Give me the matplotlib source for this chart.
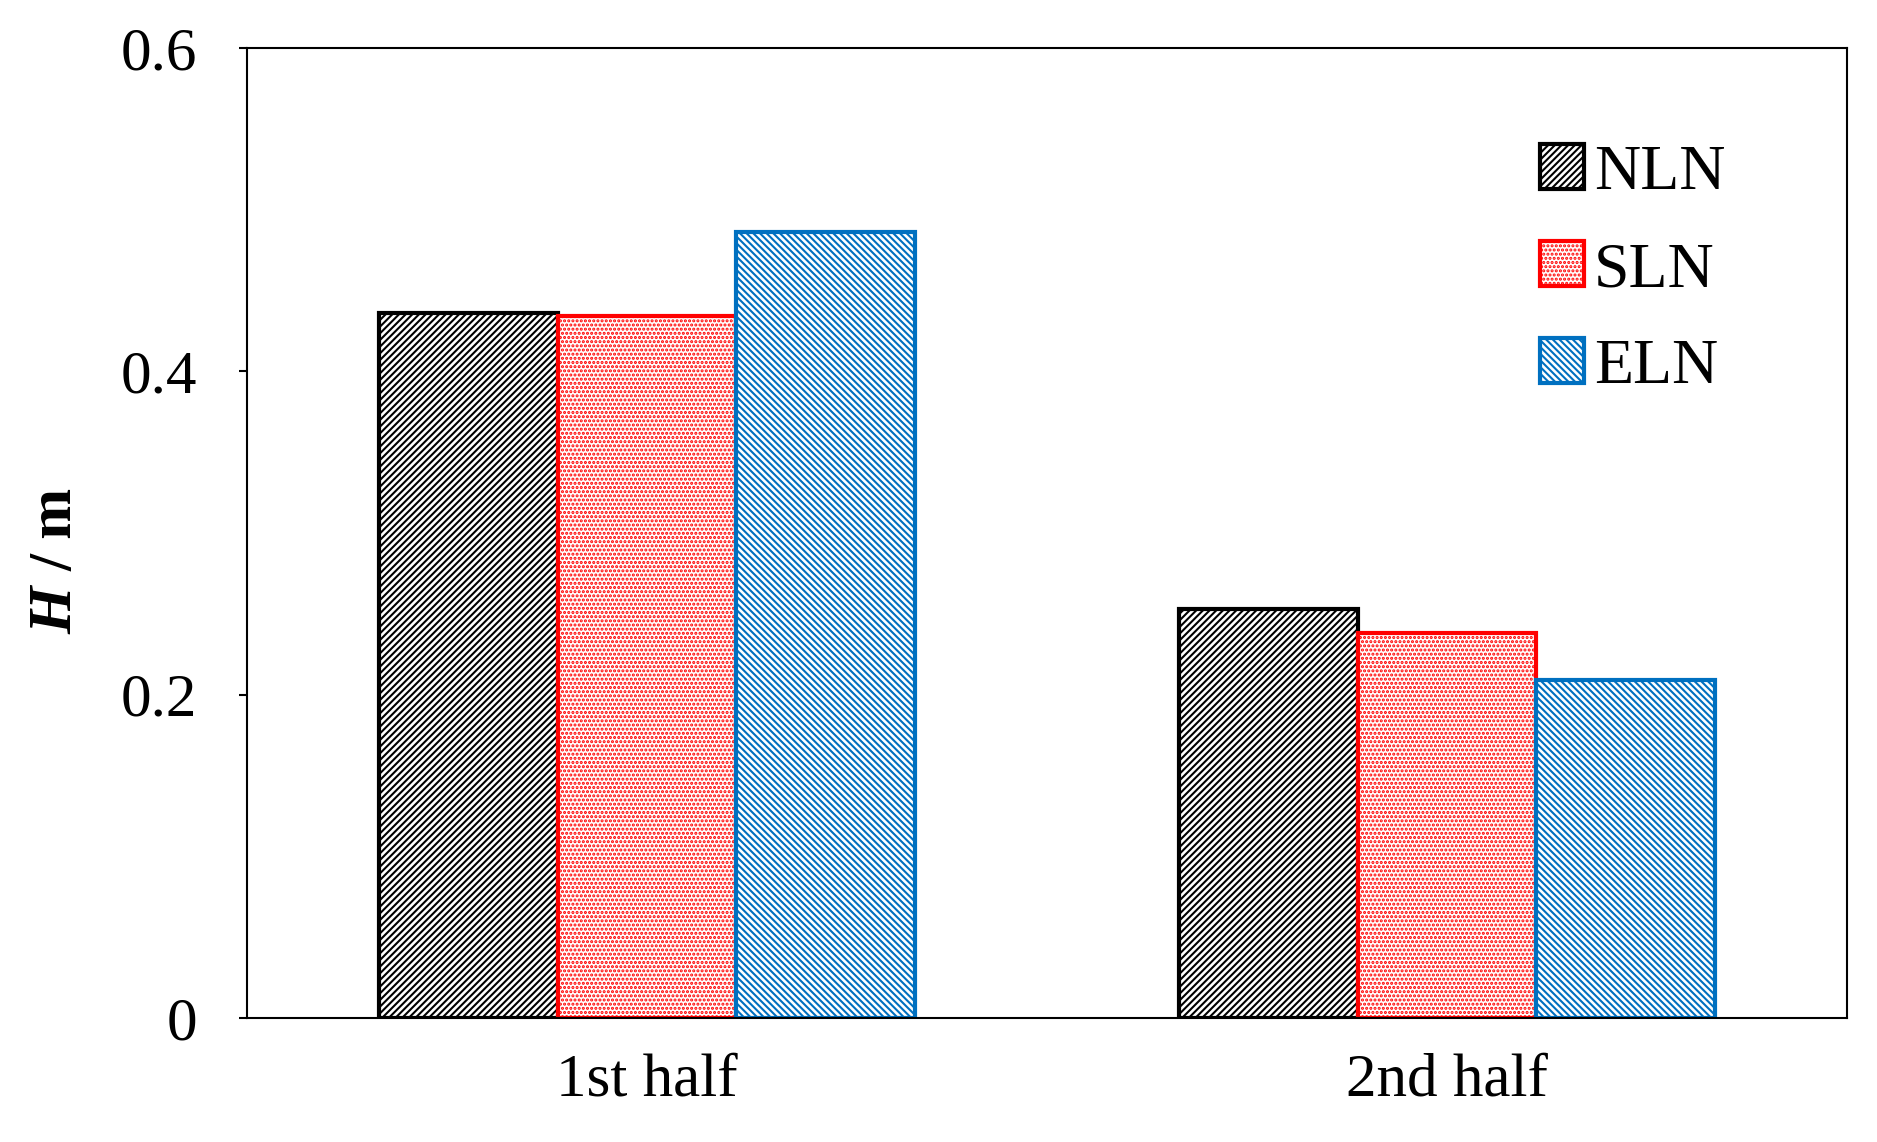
import numpy as np
import matplotlib.pyplot as plt

plt.rcParams['font.family'] = ['Liberation Serif', 'DejaVu Serif']
plt.rcParams['hatch.linewidth'] = 1.5

categories = ['1st half', '2nd half']
series = ['NLN', 'SLN', 'ELN']
nln = [0.436, 0.253]
sln = [0.434, 0.238]
eln = [0.486, 0.209]
yticks = [0, 0.2, 0.4, 0.6]
yticklabels = ['0', '0.2', '0.4', '0.6']

edges = ['black', '#ff0000', '#0070c0']
hatches = ['/////', '....', '\\\\\\\\\\']

fig = plt.figure(figsize=(18.77, 11.42), dpi=100)
ax = fig.add_axes([247 / 1877, 1 - 1018 / 1142, 1600 / 1877, 970 / 1142])

x = np.arange(len(categories))
width = 0.223
for i, (name, vals) in enumerate(zip(series, [nln, sln, eln])):
    plt.rcParams['hatch.color'] = edges[i]
    ax.bar(x + (i - 1) * width, vals, width, facecolor='white', edgecolor=edges[i],
           hatch=hatches[i], linewidth=3, label=name)

ax.set_xlim(-0.5, 1.5)
ax.set_ylim(0, 0.6)
ax.set_xticks(x)
ax.set_xticklabels(categories, fontsize=44)
ax.set_yticks(yticks)
ax.set_yticklabels(yticklabels, fontsize=44)
ax.tick_params(axis='x', length=0, pad=25)
ax.tick_params(axis='y', length=6, width=1.5, direction='out', pad=30)
for s in ax.spines.values():
    s.set_linewidth(1.5)

# y label: italic bold H followed by bold "/ m"
fig.text(0.03, 0.5, '/ m', fontsize=44, fontweight='bold', rotation=90, va='bottom', ha='center')
fig.text(0.03, 0.5, 'H ', fontsize=44, fontweight='bold', style='italic', rotation=90, va='top', ha='center')

ax.legend(loc='upper right', bbox_to_anchor=(0.96, 0.96), frameon=False, fontsize=46,
          handlelength=0.7, handleheight=0.7, handletextpad=0.15, labelspacing=0.6)
fig.savefig('out.png', dpi=100)
